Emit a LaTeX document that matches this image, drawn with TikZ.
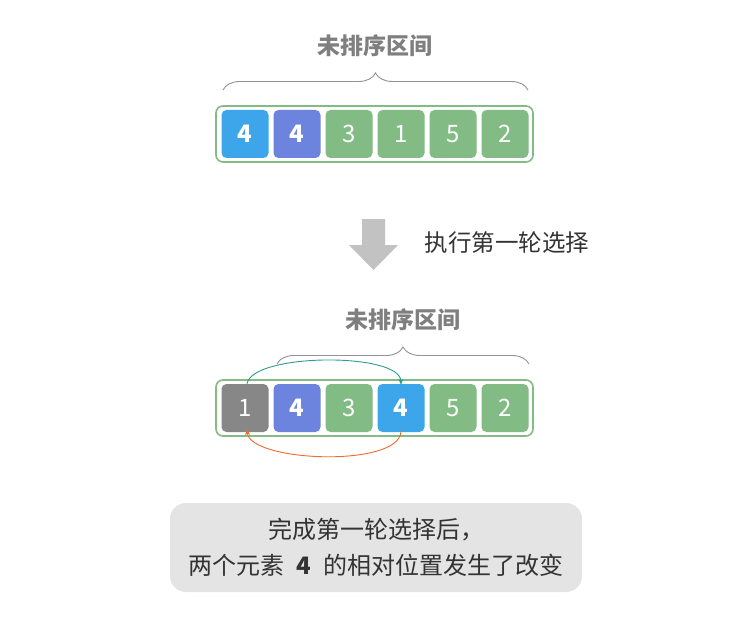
\documentclass[tikz,border=0pt]{standalone}
\usepackage{fontspec}
\setmainfont{Noto Sans CJK SC}
\usetikzlibrary{decorations.pathreplacing,arrows.meta}
\definecolor{cblue}{HTML}{3DA5E9}
\definecolor{cpurple}{HTML}{6D84DF}
\definecolor{cgreen}{HTML}{82BB84}
\definecolor{cgray}{HTML}{878787}
\definecolor{txtgray}{HTML}{7F7F7F}
\definecolor{arrgray}{HTML}{C2C2C2}
\definecolor{teal2}{HTML}{2A9D8F}
\definecolor{orange2}{HTML}{F26A2B}
\definecolor{boxgray}{HTML}{E4E4E4}
\begin{document}
\begin{tikzpicture}[x=1pt,y=-1pt,
  cell/.style={rounded corners=5pt,minimum width=47pt,minimum height=48pt,inner sep=0pt,text=white,font=\fontsize{24}{24}\selectfont},
  bcell/.style={cell,font=\fontsize{24}{24}\selectfont\bfseries},
  outer/.style={draw=cgreen,line width=1.6pt,fill=white,rounded corners=7pt},
  brace/.style={draw=txtgray!85,line width=0.9pt,decorate,decoration={brace,amplitude=17pt,aspect=0.5}},
  title/.style={text=txtgray,font=\fontsize{23}{23}\selectfont\bfseries},
  lbl/.style={text=black!80,font=\fontsize{23.5}{23.5}\selectfont}]
\useasboundingbox (0,0) rectangle (735,636);
% top row
\node[title] (t1) at (375,46) {未排序区间};
\coordinate (b1l) at (223,90);
\coordinate (b1r) at (528,90);
\draw[brace] (b1l) -- (b1r);
\node[outer,minimum width=317pt,minimum height=56pt] (r1) at (374.5,134) {};
\node[bcell,fill=cblue] (a1) at (245,134) {4};
\node[bcell,fill=cpurple] (a2) at (297,134) {4};
\node[cell,fill=cgreen] (a3) at (349,134) {3};
\node[cell,fill=cgreen] (a4) at (401,134) {1};
\node[cell,fill=cgreen] (a5) at (453,134) {5};
\node[cell,fill=cgreen] (a6) at (505,134) {2};
% big arrow
\fill[arrgray] (362,219) -- (385,219) -- (385,245) -- (398,245) -- (373.5,270) -- (349,245) -- (362,245) -- cycle;
\node[lbl,anchor=west] (step1) at (421,243) {执行第一轮选择};
% bottom row
\node[title] (t2) at (403,320) {未排序区间};
\coordinate (b2l) at (277,364);
\coordinate (b2r) at (529,364);
\draw[brace] (b2l) -- (b2r);
\node[outer,minimum width=317pt,minimum height=56pt] (r2) at (374.5,408) {};
\node[cell,fill=cgray] (c1) at (245,408) {1};
\node[bcell,fill=cpurple] (c2) at (297,408) {4};
\node[cell,fill=cgreen] (c3) at (349,408) {3};
\node[bcell,fill=cblue] (c4) at (401,408) {4};
\node[cell,fill=cgreen] (c5) at (453,408) {5};
\node[cell,fill=cgreen] (c6) at (505,408) {2};
\draw[teal2,line width=0.9pt,-{Stealth[length=6pt,width=5pt]}] ([xshift=2pt]c1.north) .. controls (252,353) and (400,352) .. ([yshift=-1pt]c4.north);
\draw[orange2,line width=0.9pt,-{Stealth[length=6pt,width=5pt]}] ([yshift=1pt]c4.south) .. controls (400,468) and (250,462) .. ([xshift=2pt,yshift=3pt]c1.south);
% note box
\node[fill=boxgray,rounded corners=16pt,minimum width=412pt,minimum height=89pt,inner sep=0pt] (note) at (376,547.5) {};
\node[lbl,align=center,font=\fontsize{24}{36}\selectfont] (notetxt) at (376,547) {完成第一轮选择后，\\两个元素\enspace\textbf{4}\enspace 的相对位置发生了改变};
\end{tikzpicture}
\end{document}
